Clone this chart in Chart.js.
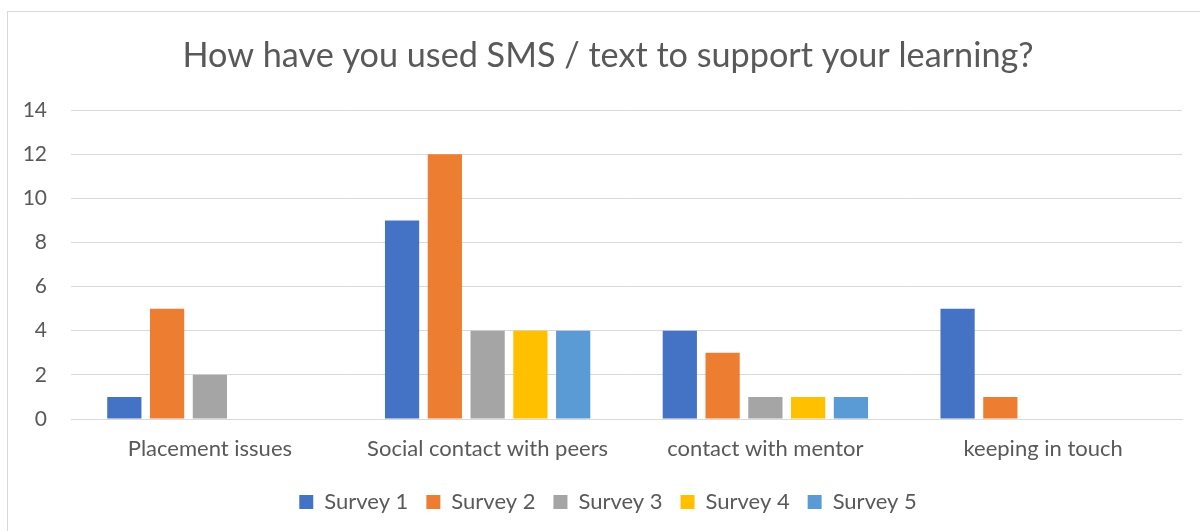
<!DOCTYPE html>
<html>
<head>
<meta charset="utf-8">
<script src="https://cdn.jsdelivr.net/npm/chart.js@4/dist/chart.umd.min.js"></script>
<style>
  html, body { margin: 0; padding: 0; background: #fff; overflow: hidden; }
  #frame { position: absolute; left: 7px; top: 11px; width: 1220px; height: 560px; border: 1px solid #d9d9d9; box-sizing: border-box; }
  #wrap { position: absolute; left: 0; top: 0; width: 1200px; height: 531px; }
</style>
</head>
<body>
<div id="frame"></div>
<div id="wrap"><canvas id="c" width="1200" height="531"></canvas></div>
<script>
const titleText = "How have you used SMS / text to support your learning?";
const categories = ["Placement issues", "Social contact with peers", "contact with mentor", "keeping in touch"];
const seriesNames = ["Survey 1", "Survey 2", "Survey 3", "Survey 4", "Survey 5"];
const survey1 = [1, 9, 4, 5];
const survey2 = [5, 12, 3, 1];
const survey3 = [2, 4, 1, 0];
const survey4 = [0, 4, 1, 0];
const survey5 = [0, 4, 1, 0];
const yTicks = [0, 2, 4, 6, 8, 10, 12, 14];
const colors = ["#4472C4", "#ED7D31", "#A5A5A5", "#FFC000", "#5B9BD5"];

const seriesValues = [survey1, survey2, survey3, survey4, survey5];
const FONT = "Lato, 'Open Sans', sans-serif";
const TXT = "#595959";

// Centre title and legend on the whole chart frame rather than only the plot span.
const shiftBlocks = {
  id: "shiftBlocks",
  afterLayout(chart) {
    if (chart.titleBlock) chart.titleBlock.left += 34;
    if (chart.legend) chart.legend.left += 34;
  }
};

new Chart(document.getElementById("c"), {
  type: "bar",
  data: {
    labels: categories,
    datasets: seriesNames.map((n, i) => ({
      label: n,
      data: seriesValues[i],
      backgroundColor: colors[i],
      borderWidth: 0,
      barPercentage: 0.8,
      categoryPercentage: 0.77
    }))
  },
  plugins: [shiftBlocks],
  options: {
    responsive: false,
    animation: false,
    devicePixelRatio: 1,
    layout: { padding: { left: 0, right: 18, top: 0, bottom: 8 } },
    plugins: {
      title: {
        display: true,
        text: titleText,
        color: TXT,
        font: { family: FONT, size: 34.2, weight: "normal" },
        padding: { top: 35, bottom: 34 }
      },
      legend: {
        position: "bottom",
        labels: {
          color: TXT,
          font: { family: FONT, size: 22 },
          boxWidth: 14,
          boxHeight: 14,
          padding: 18
        }
      },
      tooltip: { enabled: false }
    },
    scales: {
      x: {
        grid: { display: false, drawTicks: false },
        border: { display: true, color: "#d9d9d9", width: 1 },
        ticks: { color: TXT, font: { family: FONT, size: 22 }, padding: 17 },
        afterFit: (s) => { s.height = 54; }
      },
      y: {
        min: 0, max: 14,
        afterBuildTicks: (s) => { s.ticks = yTicks.map(v => ({ value: v })); },
        grid: { color: "#d9d9d9", drawTicks: false },
        border: { display: false },
        ticks: { color: TXT, font: { family: FONT, size: 21 }, padding: 24 },
        afterFit: (s) => { s.width = 71; }
      }
    }
  }
});
</script>
</body>
</html>
